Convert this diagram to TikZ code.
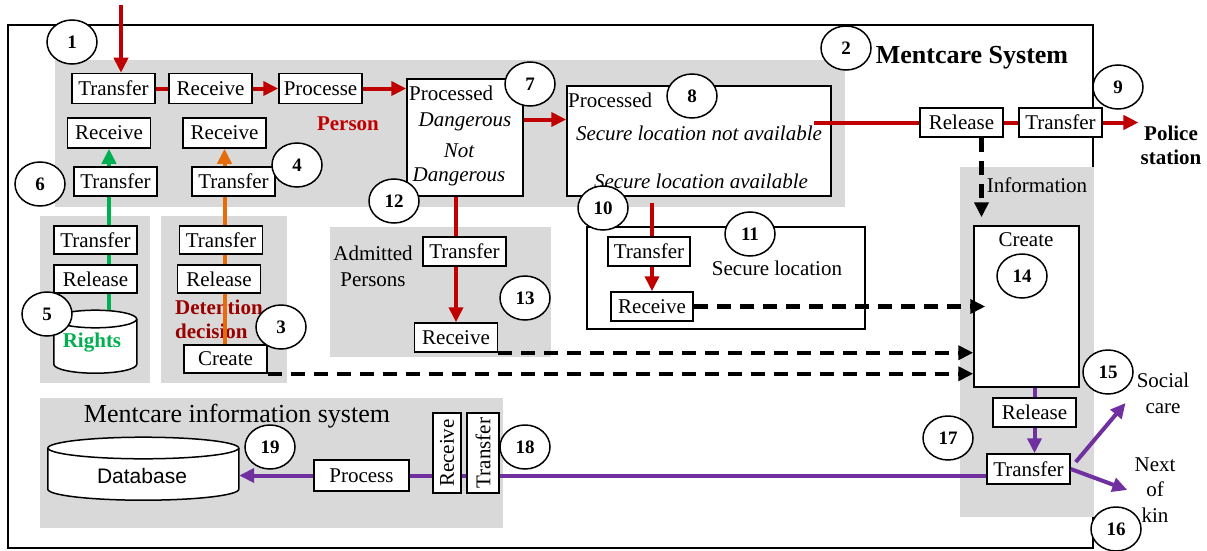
\documentclass[tikz,border=0pt]{standalone}
\usepackage{fontspec}
\setmainfont{Liberation Serif}
\newfontfamily\dbfont{Liberation Sans}
\usetikzlibrary{arrows.meta,shapes.geometric}
\definecolor{flowred}{HTML}{C00000}
\definecolor{flowgreen}{HTML}{00B050}
\definecolor{floworange}{HTML}{E46C0A}
\definecolor{flowpurple}{HTML}{7030A0}
\definecolor{decisionred}{HTML}{990000}
\definecolor{zonegray}{HTML}{D9D9D9}
\tikzset{
    flow-box/.style = {draw, fill=white, line width=1.5pt, rectangle, inner sep=0pt, minimum width=83pt, minimum height=29pt, font=\fontsize{21}{24}\selectfont},
    num-circle/.style = {draw, fill=white, line width=1.5pt, ellipse, inner sep=0pt, minimum width=50pt, minimum height=44pt, font=\bfseries\fontsize{19}{20}\selectfont},
    plain-text/.style = {inner sep=1pt, align=center, font=\fontsize{21}{24}\selectfont},
    italic-text/.style = {inner sep=1pt, align=center, font=\itshape\fontsize{21}{24}\selectfont},
    bold-text/.style = {inner sep=1pt, align=center, font=\bfseries\fontsize{21}{24}\selectfont},
    store/.style = {draw, fill=white, line width=1.5pt},
    zone/.style = {fill=zonegray},
    big-tip/.style = {-{Triangle[length=15pt,width=14pt]}},
    red-flow/.style = {draw=flowred, line width=4pt},
    green-flow/.style = {draw=flowgreen, line width=4pt},
    orange-flow/.style = {draw=floworange, line width=4pt},
    purple-flow/.style = {draw=flowpurple, line width=4pt},
    info-flow/.style = {draw=black, line width=4.5pt, dash pattern=on 14pt off 9pt},
}

\begin{document}
\begin{tikzpicture}[x=1pt,y=-1pt]
\useasboundingbox (0,0) rectangle (1207,551);
% frame and shaded zones
\draw[line width=1.5pt] (8,25) rectangle (1093,548);
\fill[zone] (55,60) rectangle (845,207);
\fill[zone] (40,216) rectangle (150,383);
\fill[zone] (161,216) rectangle (287,383);
\fill[zone] (330,227) rectangle (551,357);
\fill[zone] (960,167) rectangle (1094,517);
\fill[zone] (40,398) rectangle (503,528);

\node[font=\bfseries\fontsize{26}{28}\selectfont] (title) at (972,58) {Mentcare System};
\node[plain-text, font=\fontsize{26}{28}\selectfont] (mis-title) at (237,416) {Mentcare information system};

% person intake
\coordinate (entry) at (121,5);
\node[flow-box, minimum height=30pt] (t1) at (113.5,88.5) {Transfer};
\node[flow-box, minimum height=30pt] (r1) at (210.5,88.5) {Receive};
\node[flow-box, minimum height=30pt] (p1) at (320.5,88.5) {Processe};
\node[bold-text, text=flowred] (person) at (348,124) {Person};

\node[flow-box, minimum height=30pt] (rcvA) at (109,133) {Receive};
\node[flow-box, minimum height=30pt] (rcvB) at (224.5,133) {Receive};
\node[flow-box] (trA) at (115.5,181.5) {Transfer};
\node[flow-box] (trB) at (233.5,181.5) {Transfer};

% rights
\node[flow-box, minimum height=28pt] (trA2) at (95.5,240) {Transfer};
\node[flow-box, minimum height=28pt] (relA) at (95.5,279) {Release};
\node[minimum width=83pt, minimum height=63pt, inner sep=0pt] (rights) at (95.5,341.5) {};
\draw[store] (rights.south west) ++(0,-9) arc[start angle=180, end angle=360, x radius=41.5pt, y radius=9pt]
    -- ++(0,-45) arc[start angle=0, end angle=180, x radius=41.5pt, y radius=9pt] -- cycle;
\draw[store] (rights.north west) ++(0,9) arc[start angle=180, end angle=360, x radius=41.5pt, y radius=9pt];
\node[bold-text, text=flowgreen] (rights-label) at (92,343) {Rights};

% detention decision
\node[flow-box, minimum height=28pt] (trB2) at (221,240) {Transfer};
\node[flow-box, minimum height=28pt] (relB) at (219,279) {Release};
\node[bold-text, text=decisionred, align=left, anchor=west] (decision) at (174,319.5) {Detention\\decision};
\node[flow-box, minimum height=28pt] (create3) at (225.5,359) {Create};

% processing
\node[draw, fill=white, line width=1.5pt, minimum width=116pt, minimum height=117pt, inner sep=0pt] (proc7) at (465,137.5) {};
\node[plain-text, anchor=west] (proc7-title) at (408,93) {Processed};
\node[italic-text] (dangerous) at (465,122) {Dangerous};
\node[italic-text] (not-dangerous) at (459,165) {Not\\Dangerous};

\node[draw, fill=white, line width=1.5pt, minimum width=264pt, minimum height=110pt, inner sep=0pt] (proc8) at (699,141) {};
\node[plain-text, anchor=west] (proc8-title) at (567,100) {Processed};
\node[italic-text] (not-available) at (699,133) {Secure location not available};
\node[italic-text] (available) at (701,181) {Secure location available};

% admitted persons
\node[plain-text, font=\fontsize{21}{26}\selectfont] (admitted) at (373,266) {Admitted\\Persons};
\node[flow-box] (tr13) at (464.5,251.5) {Transfer};
\node[flow-box] (rcv13) at (456,337.5) {Receive};

% secure location
\node[draw, line width=1.5pt, minimum width=278pt, minimum height=102pt, inner sep=0pt] (secure) at (726,278) {};
\node[plain-text] (secure-label) at (777,268) {Secure location};
\node[flow-box, minimum width=82pt] (tr11) at (649,251.5) {Transfer};
\node[flow-box, minimum width=82pt] (rcv11) at (652,306.5) {Receive};

% police station
\node[flow-box] (rel9) at (961.5,122.5) {Release};
\node[flow-box] (tr9) at (1060.5,122.5) {Transfer};
\node[bold-text, inner sep=0pt] (police) at (1171,145) {Police\\station};

% information
\node[plain-text] (info-label) at (1037,185) {Information};
\node[draw, fill=white, line width=1.5pt, minimum width=105pt, minimum height=161pt, inner sep=0pt] (create14) at (1026.5,306.5) {};
\node[plain-text] (create14-label) at (1026,240) {Create};
\node[flow-box] (rel17) at (1034.5,412.5) {Release};
\node[flow-box, minimum height=30pt] (tr17) at (1028.5,469) {Transfer};
\node[plain-text, font=\fontsize{21}{26}\selectfont] (social) at (1163,393) {Social\\care};
\node[plain-text, font=\fontsize{21}{25.5}\selectfont] (nextkin) at (1155,490) {Next\\of\\kin};

% information system
\node[minimum width=191pt, minimum height=63pt, inner sep=0pt] (db) at (143.5,468.5) {};
\draw[store] (db.south west) ++(0,-11) arc[start angle=180, end angle=360, x radius=95.5pt, y radius=11pt]
    -- ++(0,-41) arc[start angle=0, end angle=180, x radius=95.5pt, y radius=11pt] -- cycle;
\draw[store] (db.north west) ++(0,11) arc[start angle=180, end angle=360, x radius=95.5pt, y radius=11pt];
\node[plain-text, font=\dbfont\fontsize{21}{24}\selectfont] (db-label) at (142,476) {Database};
\node[flow-box, minimum width=95pt, minimum height=31pt] (proc18) at (361.5,475.5) {Process};
\node[flow-box, minimum width=28pt, minimum height=80pt] (rcv18) at (447,453) {\rotatebox{90}{Receive}};
\node[flow-box, minimum width=32pt, minimum height=80pt] (tr18) at (483,453) {\rotatebox{90}{Transfer}};

% red flow
\draw[red-flow, big-tip] (entry) -- (entry |- t1.north);
\draw[red-flow] (t1.east) -- (r1.west);
\draw[red-flow, big-tip] (r1.east) -- (p1.west);
\draw[red-flow, big-tip] (p1.east) -- (p1.east -| proc7.west);
\draw[red-flow, big-tip] ([yshift=18pt]proc7.east) -- ([yshift=18pt]proc7.east -| proc8.west);
\draw[red-flow] ([xshift=-18pt]proc8.east |- rel9.west) -- (rel9.west);
\draw[red-flow] (rel9.east) -- (tr9.west);
\draw[red-flow, big-tip] (tr9.east) -- ([xshift=-2pt]tr9.east -| police.west);
\draw[red-flow] (proc7.south -| rcv13) -- (tr13.north -| rcv13);
\draw[red-flow, big-tip] (tr13.south -| rcv13) -- (rcv13.north);
\draw[red-flow] ([yshift=-6pt]proc8.south -| rcv11) -- (tr11.north -| rcv11);
\draw[red-flow, big-tip] (tr11.south -| rcv11) -- (rcv11.north);

% green and orange flows
\foreach \a/\b in {rights/relA, relA/trA2, trA2/trA}
    \draw[green-flow] (\a.north -| rcvA) -- (\b.south -| rcvA);
\draw[green-flow, big-tip] (trA.north -| rcvA) -- (rcvA.south);
\foreach \a/\b in {create3/relB, relB/trB2, trB2/trB}
    \draw[orange-flow] (\a.north -| rcvB) -- (\b.south -| rcvB);
\draw[orange-flow, big-tip] (trB.north -| rcvB) -- (rcvB.south);

% information flows
\draw[info-flow, big-tip, shorten >=8pt] ([xshift=20pt]rel9.south) -- ([xshift=20pt]rel9.south |- create14.north);
\draw[info-flow, big-tip, shorten >=-12pt] (rcv11.east) -- (rcv11.east -| create14.west);
\draw[info-flow, big-tip] (rcv13.south east) -- (rcv13.south east -| create14.west);
\draw[info-flow, big-tip] (create3.south east) -- (create3.south east -| create14.west);

% purple flow
\draw[purple-flow] (create14.south -| rel17) -- (rel17.north);
\draw[purple-flow, big-tip] (rel17.south) -- (rel17.south |- tr17.north);
\draw[purple-flow, big-tip] ([xshift=5pt,yshift=7pt]tr17.east) -- ([xshift=-10pt,yshift=-10pt]social.west);
\draw[purple-flow, big-tip] (tr17.east) -- ([xshift=-6pt]nextkin.west);
\draw[purple-flow] (tr17.west |- proc18) -- (tr18.east |- proc18);
\draw[purple-flow] (tr18.west |- proc18) -- (rcv18.east |- proc18);
\draw[purple-flow] (rcv18.west |- proc18) -- (proc18.east);
\draw[purple-flow, big-tip] (proc18.west) -- (proc18.west -| db.east);

% numbered markers
\node[num-circle] (n1) at (72,42) {1};
\node[num-circle] (n2) at (846,48) {2};
\node[num-circle] (n3) at (281,327) {3};
\node[num-circle] (n4) at (297,165) {4};
\node[num-circle] (n5) at (47,314) {5};
\node[num-circle] (n6) at (40,184) {6};
\node[num-circle] (n7) at (530,84) {7};
\node[num-circle] (n8) at (692,96) {8};
\node[num-circle] (n9) at (1118,87) {9};
\node[num-circle] (n10) at (603,208) {10};
\node[num-circle] (n11) at (750,234) {11};
\node[num-circle] (n12) at (394,201) {12};
\node[num-circle] (n13) at (525,298) {13};
\node[num-circle] (n14) at (1022,276) {14};
\node[num-circle] (n15) at (1108,372) {15};
\node[num-circle] (n16) at (1116,529) {16};
\node[num-circle] (n17) at (948,438) {17};
\node[num-circle] (n18) at (525,447) {18};
\node[num-circle] (n19) at (270,447) {19};
\end{tikzpicture}
\end{document}
